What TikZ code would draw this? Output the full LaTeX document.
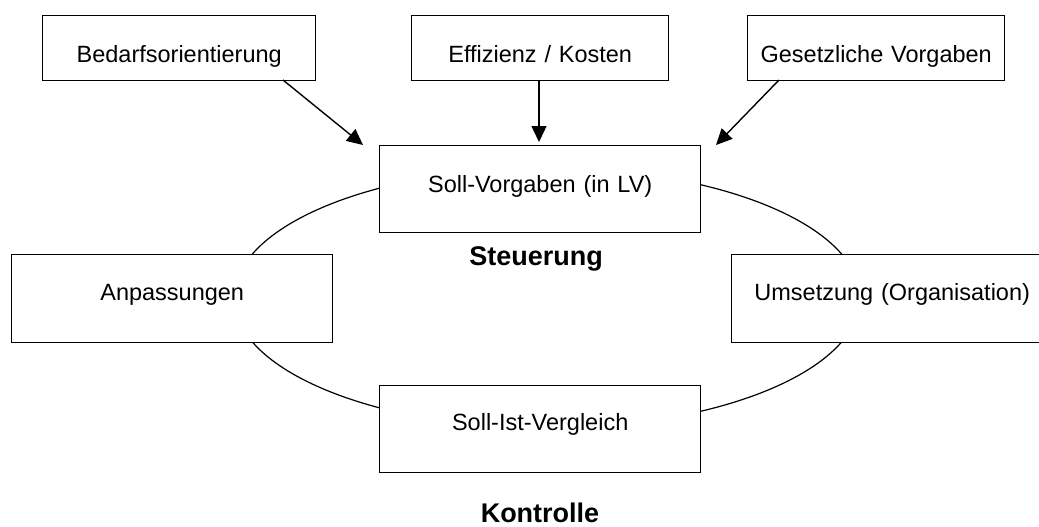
\documentclass[tikz,border=0pt]{standalone}
\usepackage{fontspec}
\setmainfont{Liberation Sans}
\usetikzlibrary{arrows.meta}
\begin{document}
\begin{tikzpicture}[x=1pt,y=-1pt,
  box/.style={draw=black,line width=1.4pt,fill=white,inner sep=0pt,anchor=north west,
    align=center,font=\fontsize{23.5}{28}\selectfont},
  lbl/.style={inner sep=0pt,anchor=base,font=\fontsize{27}{32}\selectfont\bfseries},
  arr/.style={line width=1.4pt,-{Triangle[length=16pt,width=15pt]}},
  ring/.style={line width=1.2pt}]
\useasboundingbox (0,0) rectangle (1039,527);
\clip (0,0) rectangle (1039,527);
% cycle ellipse
\coordinate (c) at (547,298);
\draw[ring] (c) ellipse [x radius=313, y radius=130];
% top boxes
\node[box,text width=273pt,text height=47pt,text depth=18pt] (bed) at (42,15) {Bedarfsorientierung};
\node[box,text width=257pt,text height=47pt,text depth=18pt] (eff) at (411,15) {Effizienz / Kosten};
\node[box,text width=257pt,text height=47pt,text depth=18pt] (ges) at (747,15) {Gesetzliche Vorgaben};
% cycle boxes
\node[box,text width=321pt,text height=47pt,text depth=40pt] (soll) at (379,145) {Soll-Vorgaben (in LV)};
\node[box,text width=321pt,text height=46pt,text depth=42pt] (anp) at (11,254) {Anpassungen};
\node[box,text width=321pt,text height=46pt,text depth=42pt] (ums) at (731,254) {Umsetzung (Organisation)};
\node[box,text width=321pt,text height=45pt,text depth=42pt] (vgl) at (379,385) {Soll-Ist-Vergleich};
% labels
\node[lbl] (steu) at (536,265) {Steuerung};
\node[lbl] (kon) at (540,522) {Kontrolle};
% arrows
\coordinate (s1) at (283,80);
\coordinate (t1) at (363,145);
\coordinate (s2) at (539,80);
\coordinate (t2) at (539,142);
\coordinate (s3) at (779,80);
\coordinate (t3) at (716,145);
\draw[arr] (s1) -- (t1);
\draw[arr] (s2) -- (t2);
\draw[arr] (s3) -- (t3);
\end{tikzpicture}
\end{document}
